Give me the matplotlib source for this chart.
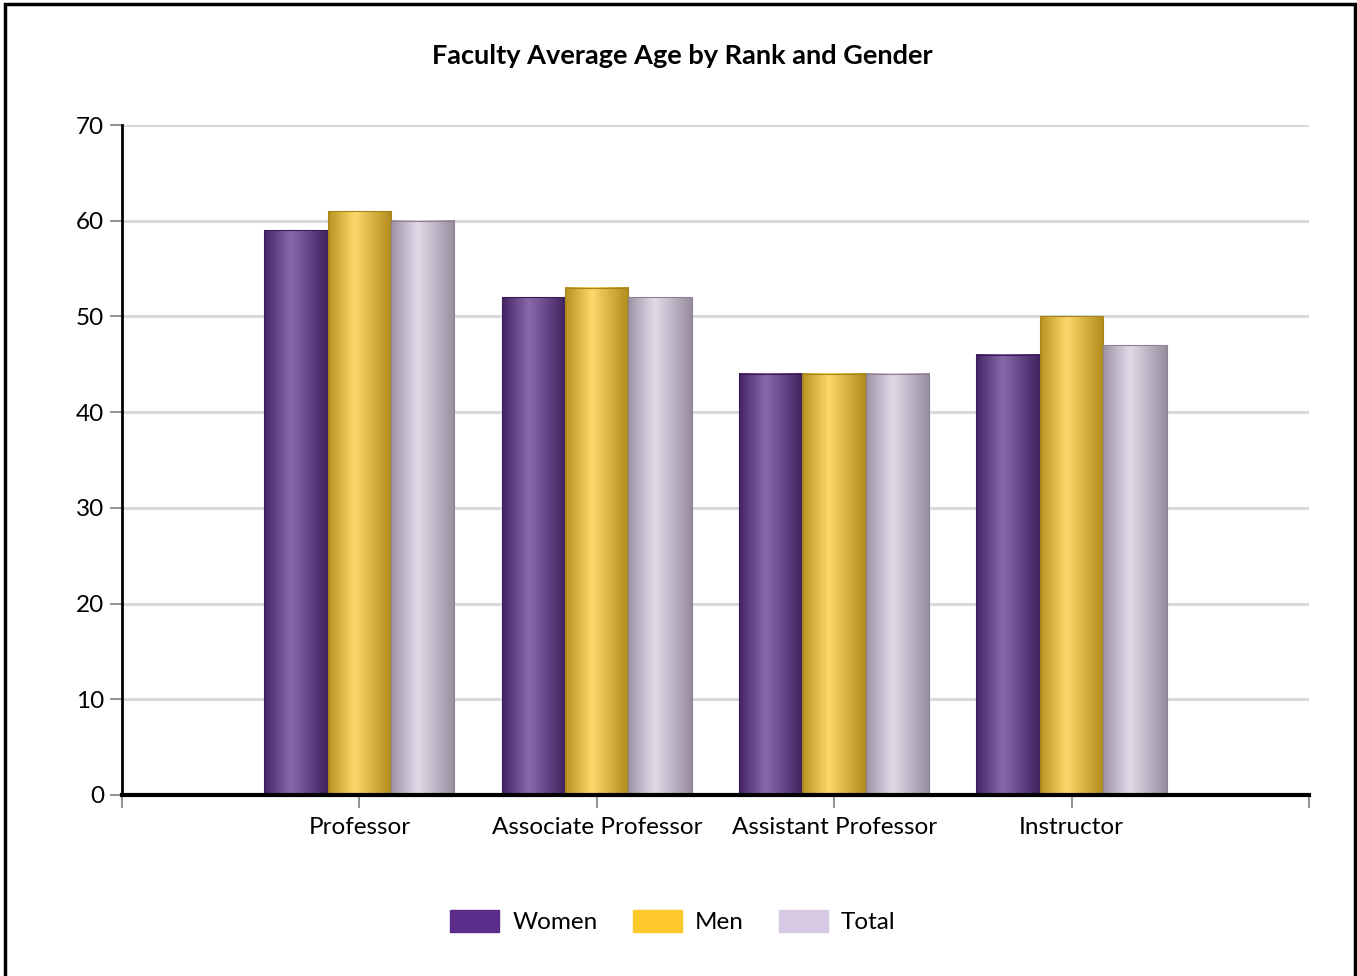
import numpy as np
import matplotlib
matplotlib.use("Agg")
import matplotlib.pyplot as plt
from matplotlib.colors import LinearSegmentedColormap
from matplotlib.patches import Rectangle, Patch

plt.rcParams['font.family'] = ['Lato', 'DejaVu Sans']

# data
categories = ["Professor", "Associate Professor", "Assistant Professor", "Instructor"]
series = ["Women", "Men", "Total"]
women = [59, 52, 44, 46]
men = [61, 53, 44, 50]
total = [60, 52, 44, 47]
values = [women, men, total]

legend_colors = ["#5b2c8c", "#fdc82a", "#d6c9e1"]
# gradient stops: edge, highlight, edge
grad_colors = [
    ["#432463", "#8a69ab", "#40215f"],
    ["#b8921f", "#fcd96a", "#b08b1c"],
    ["#9d93a5", "#e2dae9", "#968c9e"],
]
edge_colors = ["#3a1d58", "#a8851a", "#8c8294"]

fig = plt.figure(figsize=(13.57, 9.76), dpi=100)
ax = fig.add_axes([0.0899, 0.1855, 0.8747, 0.6864])

x = np.arange(1, len(categories) + 1)
width = 0.267
grad = np.linspace(0, 1, 256).reshape(1, -1)

for i, (vals, gc) in enumerate(zip(values, grad_colors)):
    cmap = LinearSegmentedColormap.from_list("g%d" % i, [(0, gc[0]), (0.42, gc[1]), (1, gc[2])])
    bars = ax.bar(x + (i - 1) * width, vals, width, color="none", edgecolor=edge_colors[i],
                  linewidth=0.8, zorder=3)
    for b in bars:
        bx, by = b.get_x(), b.get_y()
        ax.imshow(grad, cmap=cmap, aspect="auto", zorder=2.5,
                  extent=[bx, bx + b.get_width(), by, by + b.get_height()])

ax.set_xlim(0, 5)
ax.set_ylim(0, 70)
ax.set_yticks(range(0, 71, 10))
ax.set_xticks(range(0, 6))
ax.set_xticklabels([""] + categories + [""])
ax.tick_params(axis="both", labelsize=17.5, colors="#808080", labelcolor="black", length=9, width=1.2)
ax.tick_params(axis="x", pad=7)
ax.tick_params(axis="y", pad=4)
ax.grid(axis="y", color="#d9d9d9", linewidth=2.2, zorder=0)
ax.set_axisbelow(True)
for s in ["top", "right"]:
    ax.spines[s].set_visible(False)
ax.spines["left"].set_linewidth(2)
ax.spines["bottom"].set_linewidth(3)
ax.spines["bottom"].set_zorder(4)

fig.text(0.5025, 0.943, "Faculty Average Age by Rank and Gender", ha="center", va="center",
         fontsize=19.5, fontweight="bold")

handles = [Patch(facecolor=c, edgecolor=c, label=s) for s, c in zip(series, legend_colors)]
fig.legend(handles=handles, loc="center", bbox_to_anchor=(0.496, 0.056), ncol=3, frameon=False,
           fontsize=17.5, handlelength=2.0, handleheight=1.05, columnspacing=1.45, handletextpad=0.55)

fig.patches.append(Rectangle((0.004, -0.02), 0.9945, 1.0155, transform=fig.transFigure,
                             fill=False, edgecolor="black", linewidth=2.5))

fig.savefig("out.png", dpi=100)
